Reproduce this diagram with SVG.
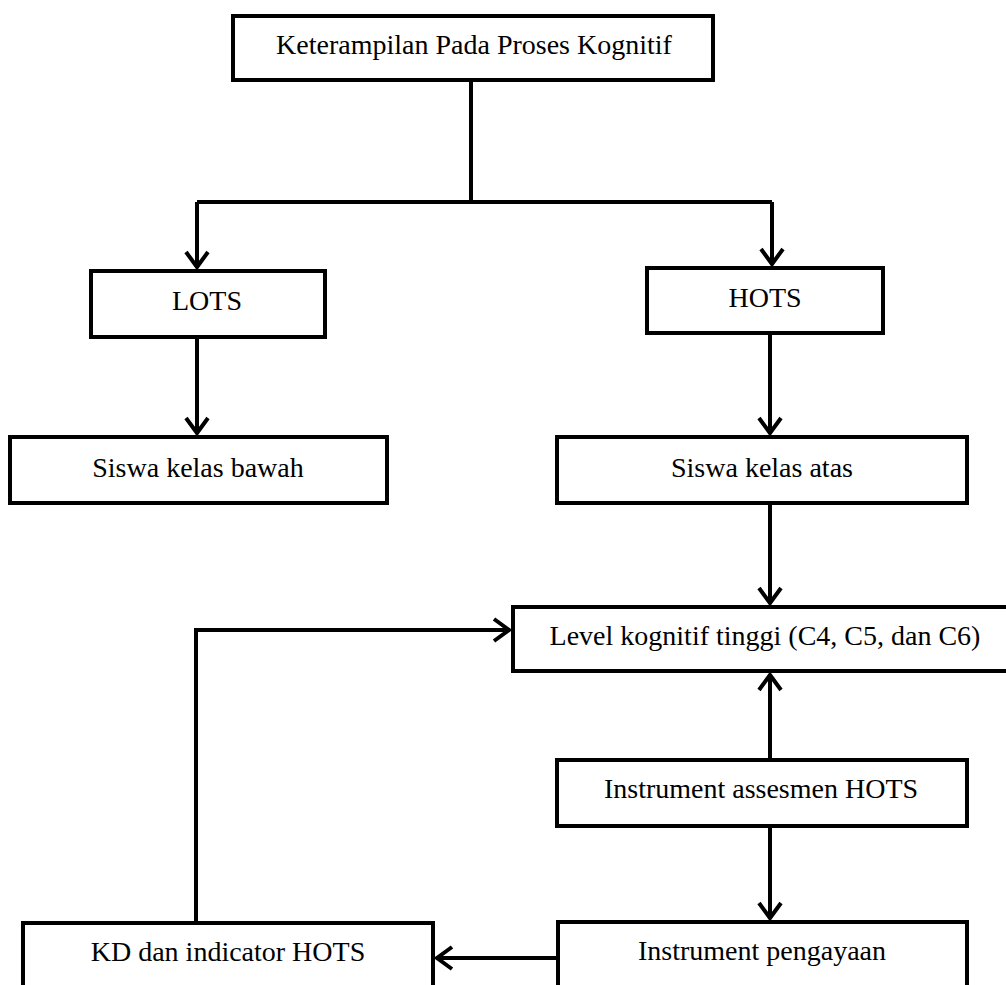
<svg xmlns="http://www.w3.org/2000/svg" width="1006" height="985" viewBox="0 0 1006 985">
<style>
.box{fill:#fff;stroke:#000;stroke-width:4}
.lbl{font-family:"Liberation Serif","Times New Roman",serif;font-size:28px;fill:#000;text-anchor:middle}
.con{fill:none;stroke:#000;stroke-width:4}
</style>
<defs>
<marker id="arr" markerUnits="userSpaceOnUse" markerWidth="30" markerHeight="30" viewBox="-20 -15 30 30" refX="0" refY="0" orient="auto" overflow="visible">
<path d="M -16 -11 L -1 0 L -16 11" fill="none" stroke="#000" stroke-width="4" stroke-linejoin="miter"/>
</marker>
</defs>
<rect width="1006" height="985" fill="#fff"/>
<g id="connectors">
<path class="con" d="M471 80 V202"/>
<path class="con" d="M197 202 H772"/>
<path class="con" d="M197 202 V268" marker-end="url(#arr)"/>
<path class="con" d="M772 202 V265" marker-end="url(#arr)"/>
<path class="con" d="M197 337 V434" marker-end="url(#arr)"/>
<path class="con" d="M770 333 V434" marker-end="url(#arr)"/>
<path class="con" d="M770 503 V604" marker-end="url(#arr)"/>
<path class="con" d="M196 923 V630 H510" marker-end="url(#arr)"/>
<path class="con" d="M770 760 V674" marker-end="url(#arr)"/>
<path class="con" d="M770 826 V919" marker-end="url(#arr)"/>
<path class="con" d="M558 958 H436" marker-end="url(#arr)"/>
</g>
<g id="node-top"><rect class="box" x="233" y="16" width="480" height="64"/><text class="lbl" x="474" y="54">Keterampilan Pada Proses Kognitif</text></g>
<g id="node-lots"><rect class="box" x="91" y="271" width="234" height="66"/><text class="lbl" x="207" y="310">LOTS</text></g>
<g id="node-hots"><rect class="box" x="647" y="268" width="236" height="65"/><text class="lbl" x="765" y="307">HOTS</text></g>
<g id="node-bawah"><rect class="box" x="10" y="437" width="377" height="66"/><text class="lbl" x="198" y="477">Siswa kelas bawah</text></g>
<g id="node-atas"><rect class="box" x="557" y="437" width="410" height="66"/><text class="lbl" x="762" y="477">Siswa kelas atas</text></g>
<g id="node-level"><rect class="box" x="513" y="607" width="500" height="64"/><text class="lbl" x="765" y="645">Level kognitif tinggi (C4, C5, dan C6)</text></g>
<g id="node-assesmen"><rect class="box" x="557" y="760" width="410" height="66"/><text class="lbl" x="761" y="798">Instrument assesmen HOTS</text></g>
<g id="node-pengayaan"><rect class="box" x="558" y="922" width="409" height="80"/><text class="lbl" x="762" y="960">Instrument pengayaan</text></g>
<g id="node-kd"><rect class="box" x="23" y="923" width="410" height="80"/><text class="lbl" x="228" y="961">KD dan indicator HOTS</text></g>
</svg>
